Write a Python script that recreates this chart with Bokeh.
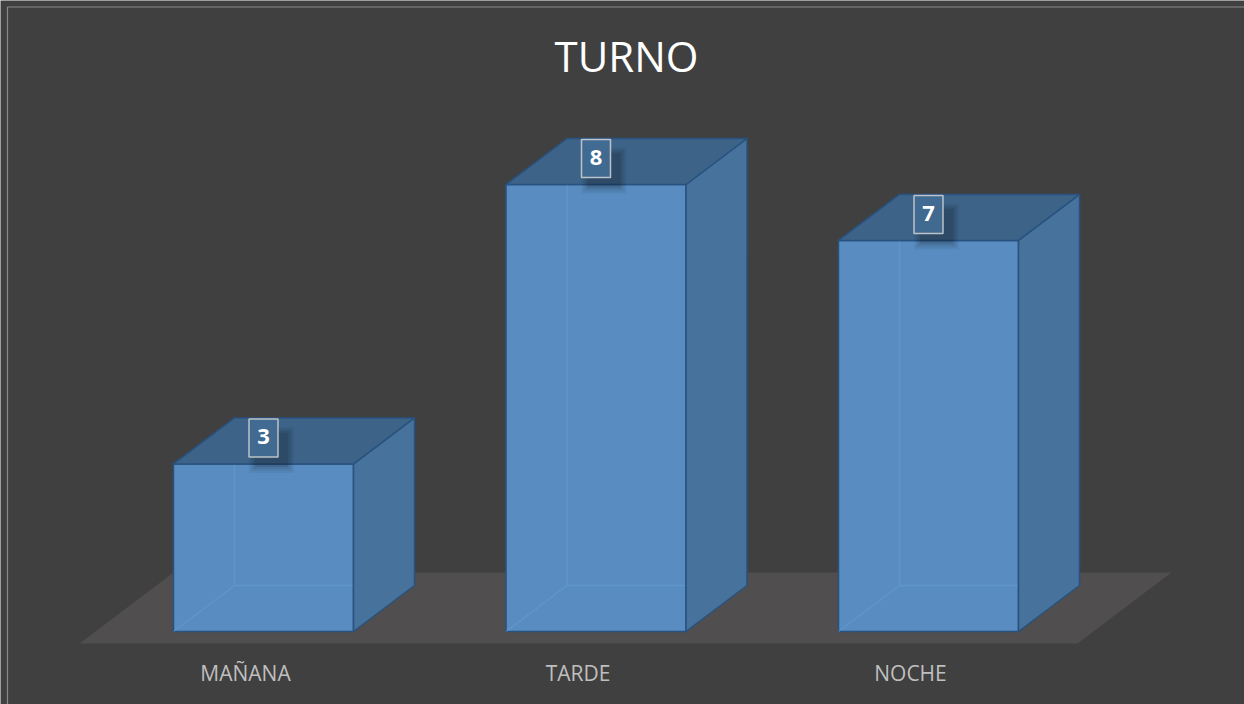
import numpy as np
from bokeh.plotting import figure
from bokeh.models import Range1d, ColumnDataSource
from bokeh.embed import file_html
from bokeh.resources import INLINE
from bokeh.core.properties import value

# ---- data ----
categories = ["MAÑANA", "TARDE", "NOCHE"]
values = [3, 8, 7]
title_text = "TURNO"

# ---- layout constants (pixel geometry of the page) ----
W, H = 1244, 704
ORIG = 0
X0, XSTEP = 263.0, 332.5      # pixel of category 0 centre, pixels per category
Y0, YSCALE = 631.0, 55.875    # pixel of value 0, pixels per unit

def ux(px):
    return (px - X0) / XSTEP

def uy(py):
    return (Y0 - py) / YSCALE

HW = 90 / XSTEP          # half bar width
DDX = 61 / XSTEP         # depth offset x
DDY = 46 / YSCALE        # depth offset y

BG = "#404040"
FRONT = "#598dc1"
SIDE = "#47729b"
TOP = "#3d6488"
EDGE = "#28527f"

p = figure(width=W, height=H, output_backend="svg", toolbar_location=None,
           x_range=Range1d(ux(ORIG), ux(ORIG + W)),
           y_range=Range1d(uy(ORIG + H), uy(ORIG)),
           x_axis_type=None, y_axis_type=None, min_border=0,
           background_fill_color=BG, border_fill_color=BG,
           outline_line_color=None)
p.xgrid.grid_line_color = None
p.ygrid.grid_line_color = None

# thin light border of the chart area
p.line([ux(7), ux(7), ux(W + 5)], [uy(H + 5), uy(6.5), uy(6.5)],
       line_color="#8a8a8a", line_width=1.2)

# ---- floor ----
f_dx = 94 / XSTEP
f_dy = 71 / YSCALE
fl, fr, fy = ux(79), ux(1077), uy(643)
p.patch([fl, fr, fr + f_dx, fl + f_dx], [fy, fy, fy + f_dy, fy + f_dy],
        fill_color="#504e4e", line_color=None)

idx = np.arange(len(values))
vals = np.array(values, dtype=float)
xl = idx - HW
xr = idx + HW

# front faces
p.quad(left=xl, right=xr, bottom=np.zeros_like(vals), top=vals,
       fill_color=FRONT, line_color=EDGE, line_width=1.5)

# inner (see-through) back edges
for i, v in enumerate(vals):
    p.line([xl[i], xl[i] + DDX, xl[i] + DDX], [0, DDY, v + DDY],
           line_color="#6a9fd4", line_alpha=0.45, line_width=1.5)
    p.line([xl[i] + DDX, xr[i]], [DDY, DDY],
           line_color="#6a9fd4", line_alpha=0.45, line_width=1.5)

# side faces
side_xs = [[xr[i], xr[i] + DDX, xr[i] + DDX, xr[i]] for i in idx]
side_ys = [[0, DDY, v + DDY, v] for v in vals]
p.patches(side_xs, side_ys, fill_color=SIDE, line_color=EDGE, line_width=1.5,
          line_join="round")

# top faces
top_xs = [[xl[i], xr[i], xr[i] + DDX, xl[i] + DDX] for i in idx]
top_ys = [[v, v, v + DDY, v + DDY] for v in vals]
p.patches(top_xs, top_ys, fill_color=TOP, line_color=EDGE, line_width=1.5,
          line_join="round")

# ---- value labels ----
box_y = vals + DDY / 2 + 3 / YSCALE
# soft shadow
for k, a in enumerate([0.05, 0.06, 0.07, 0.08]):
    grow = 16 - 4 * k
    p.rect(x=idx + 8 / XSTEP, y=box_y - 12 / YSCALE, width=29 + grow, height=30 + grow,
           width_units="screen", height_units="screen",
           fill_color="black", fill_alpha=a, line_color=None)
p.rect(x=idx, y=box_y, width=29, height=38, width_units="screen", height_units="screen",
       fill_color="#426c94", fill_alpha=0.95, line_color="#bcc2c8", line_width=1.5)
src = ColumnDataSource(dict(x=idx, y=box_y + 1 / YSCALE, t=[str(v) for v in values]))
p.text(x="x", y="y", text="t", source=src, text_font=value("Open Sans"),
       text_font_style="bold", text_font_size="22px", text_color="white",
       text_align="center", text_baseline="alphabetic")

# ---- category labels ----
csrc = ColumnDataSource(dict(x=idx - 18 / XSTEP, y=np.full(len(idx), uy(672)), t=categories))
p.text(x="x", y="y", text="t", source=csrc, text_font=value("Open Sans"),
       text_font_size="21px", text_color="#bfbfbf",
       text_align="center", text_baseline="alphabetic")

# ---- title ----
p.text(x=[ux(626)], y=[uy(55)], text=[title_text], text_font=value("Open Sans"),
       text_font_size="42px", text_color="white",
       text_align="center", text_baseline="alphabetic")

open("out.html", "w").write(file_html(p, INLINE))
